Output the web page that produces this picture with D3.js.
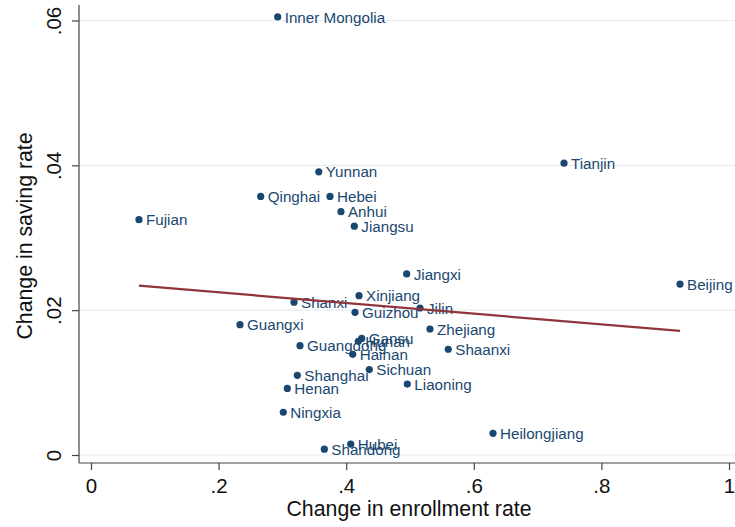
<!DOCTYPE html>
<html>
<head>
<meta charset="utf-8">
<script src="https://cdn.jsdelivr.net/npm/d3@7"></script>
<style>
  html, body { margin: 0; padding: 0; background: #fff; }
  svg { display: block; }
  text { font-family: "Liberation Sans", Arial, Helvetica, sans-serif; }
</style>
</head>
<body>
<svg id="chart" width="735" height="527"></svg>
<script>
// Provinces and their changes in enrollment rate (x) and saving rate (y)
const provinces = ["Inner Mongolia", "Tianjin", "Yunnan", "Qinghai", "Hebei", "Anhui", "Jiangsu",
  "Jiangxi", "Xinjiang", "Fujian", "Beijing", "Shanxi", "Jilin", "Guizhou", "Guangxi", "Zhejiang",
  "Gansu", "Hunan", "Guangdong", "Shaanxi", "Hainan", "Sichuan", "Shanghai", "Liaoning", "Henan",
  "Ningxia", "Heilongjiang", "Hubei", "Shandong"];
const enrollmentChange = [0.2926, 0.7414, 0.3570, 0.2660, 0.3746, 0.3918, 0.4127,
  0.4948, 0.4201, 0.0752, 0.9232, 0.3182, 0.5157, 0.4138, 0.2335, 0.5313,
  0.4243, 0.4190, 0.3276, 0.5600, 0.4102, 0.4362, 0.3234, 0.4958, 0.3077,
  0.3014, 0.6301, 0.4071, 0.3657];
const savingChange = [0.0605, 0.0403, 0.0391, 0.0357, 0.0357, 0.0336, 0.0316,
  0.0250, 0.0220, 0.0325, 0.0236, 0.0211, 0.0203, 0.0197, 0.0180, 0.0174,
  0.0161, 0.0157, 0.0151, 0.0146, 0.0139, 0.0118, 0.0110, 0.0098, 0.0092,
  0.0059, 0.0030, 0.0015, 0.0008];

const xTicks = [0, 0.2, 0.4, 0.6, 0.8, 1];
const xTickLabels = ["0", ".2", ".4", ".6", ".8", "1"];
const yTicks = [0, 0.02, 0.04, 0.06];
const yTickLabels = ["0", ".02", ".04", ".06"];

const xTitle = "Change in enrollment rate";
const yTitle = "Change in saving rate";

const navy = "#1a476f";
const maroon = "#90353b";
const gridColor = "#e6eef2";
const axisColor = "#444";

const svg = d3.select("#chart");

// Plot region bounds
const plot = { left: 79, right: 735, top: 5, bottom: 463 };

const x = d3.scaleLinear().domain([0, 1]).range([91, 729]);
const y = d3.scaleLinear().domain([0, 0.06]).range([455, 20.5]);

// Horizontal grid lines
svg.append("g")
  .selectAll("line")
  .data(yTicks)
  .join("line")
  .attr("x1", plot.left)
  .attr("x2", plot.right)
  .attr("y1", d => y(d))
  .attr("y2", d => y(d))
  .attr("stroke", gridColor)
  .attr("stroke-width", 1.2);

// Y axis
const yAxis = svg.append("g")
  .attr("transform", `translate(${plot.left},0)`)
  .call(d3.axisLeft(y).tickValues(yTicks).tickSize(7)
    .tickFormat((d, i) => yTickLabels[i]));
yAxis.select(".domain").remove();
yAxis.selectAll(".tick line").attr("stroke", axisColor).attr("stroke-width", 1.2);
yAxis.selectAll(".tick text")
  .attr("transform", "rotate(-90)")
  .attr("x", 0)
  .attr("y", -18)
  .attr("dy", 0)
  .attr("text-anchor", "middle")
  .attr("font-size", 20.5)
  .attr("fill", "#111");
yAxis.append("line")
  .attr("x1", 0).attr("x2", 0)
  .attr("y1", plot.top).attr("y2", plot.bottom)
  .attr("stroke", axisColor).attr("stroke-width", 1.2);

// X axis
const xAxis = svg.append("g")
  .attr("transform", `translate(0,${plot.bottom})`)
  .call(d3.axisBottom(x).tickValues(xTicks).tickSize(7)
    .tickFormat((d, i) => xTickLabels[i]));
xAxis.select(".domain").remove();
xAxis.selectAll(".tick line").attr("stroke", axisColor).attr("stroke-width", 1.2);
xAxis.selectAll(".tick text")
  .attr("y", 30)
  .attr("dy", 0)
  .attr("font-size", 20.5)
  .attr("fill", "#111");
xAxis.append("line")
  .attr("x1", plot.left).attr("x2", plot.right)
  .attr("y1", 0).attr("y2", 0)
  .attr("stroke", axisColor).attr("stroke-width", 1.2);

// Axis titles
svg.append("text")
  .attr("x", 409)
  .attr("y", 516)
  .attr("text-anchor", "middle")
  .attr("font-size", 21.3)
  .attr("fill", "#111")
  .text(xTitle);

svg.append("text")
  .attr("transform", "translate(32,236) rotate(-90)")
  .attr("text-anchor", "middle")
  .attr("font-size", 21.3)
  .attr("fill", "#111")
  .text(yTitle);

// Scatter points with province labels
const points = provinces.map((name, i) => ({ name, ex: enrollmentChange[i], sv: savingChange[i] }));

const pts = svg.append("g");
pts.selectAll("circle")
  .data(points)
  .join("circle")
  .attr("cx", d => x(d.ex))
  .attr("cy", d => y(d.sv))
  .attr("r", 3.6)
  .attr("fill", navy);

pts.selectAll("text")
  .data(points)
  .join("text")
  .attr("x", d => x(d.ex) + 7)
  .attr("y", d => y(d.sv))
  .attr("dy", "0.37em")
  .attr("font-size", 15.2)
  .attr("fill", navy)
  .text(d => d.name);

// Least-squares fitted line across the observed range of x
const mx = d3.mean(enrollmentChange);
const my = d3.mean(savingChange);
let sxy = 0, sxx = 0;
enrollmentChange.forEach((v, i) => {
  sxy += (v - mx) * (savingChange[i] - my);
  sxx += (v - mx) * (v - mx);
});
const slope = sxy / sxx;
const intercept = my - slope * mx;
const [xmin, xmax] = d3.extent(enrollmentChange);

svg.append("line")
  .attr("x1", x(xmin))
  .attr("y1", y(intercept + slope * xmin))
  .attr("x2", x(xmax))
  .attr("y2", y(intercept + slope * xmax))
  .attr("stroke", maroon)
  .attr("stroke-width", 2.2);
</script>
</body>
</html>
